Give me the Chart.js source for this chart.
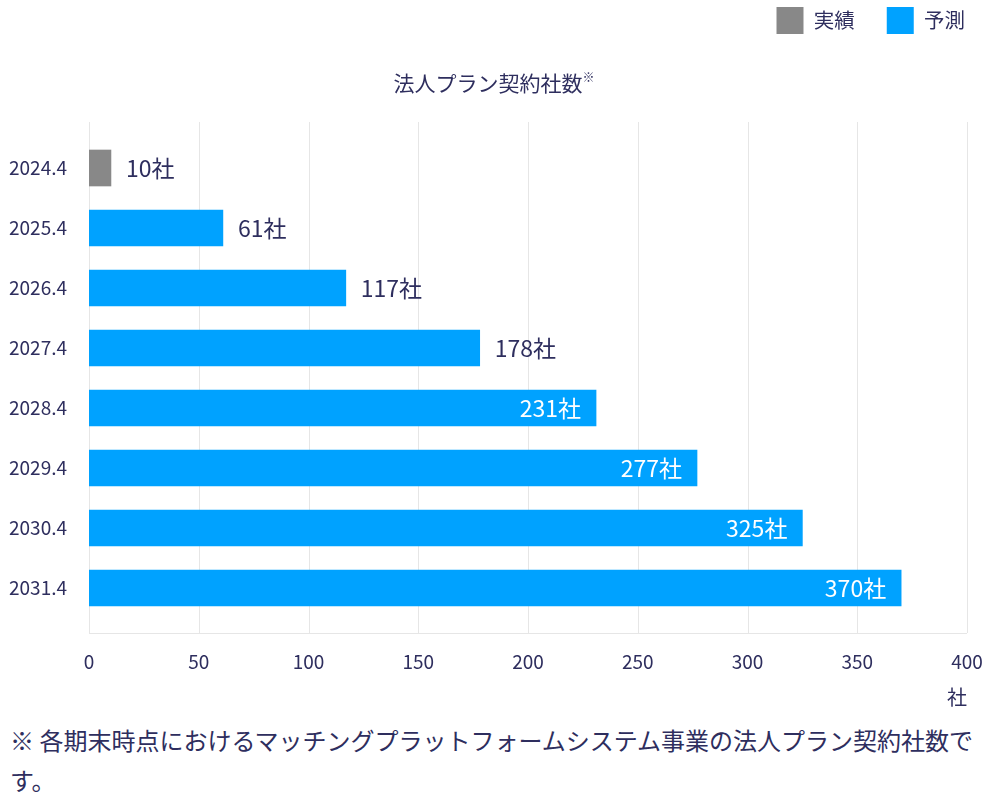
<!DOCTYPE html>
<html><head><meta charset="utf-8">
<script src="https://cdn.jsdelivr.net/npm/chart.js@4"></script>
<style>
html,body{margin:0;padding:0;background:#fff;}
body{width:988px;height:801px;position:relative;overflow:hidden;font-family:"Noto Sans CJK JP","Noto Sans",sans-serif;color:#2e2e5e;}
#wrap{position:absolute;left:0;top:0;width:988px;height:718px;}
#title{position:absolute;left:0;width:988px;top:70px;text-align:center;font-size:21px;line-height:24px;}
#title sup{font-size:12px;vertical-align:top;position:relative;top:-5px;}
#note{position:absolute;left:10px;top:720px;width:970px;font-size:24px;line-height:40px;}
</style></head>
<body>
<div id="wrap"><canvas id="c" width="988" height="718"></canvas></div>
<div id="title">法人プラン契約社数<sup>※</sup></div>
<div id="note">※ 各期末時点におけるマッチングプラットフォームシステム事業の法人プラン契約社数です。</div>
<script>
const categories = ['2024.4','2025.4','2026.4','2027.4','2028.4','2029.4','2030.4','2031.4'];
const actualValues = [10, null, null, null, null, null, null, null];
const forecastValues = [null, 61, 117, 178, 231, 277, 325, 370];
const seriesNames = ['実績', '予測'];
const unitLabel = '社';
const xMax = 400;
const xStep = 50;

const NAVY = '#2e2e5e';
const FONT = '"Noto Sans CJK JP", "Noto Sans", sans-serif';

const gridPlugin = {
  id: 'gridExt',
  beforeDatasetsDraw(chart) {
    const ctx = chart.ctx, xs = chart.scales.x, a = chart.chartArea;
    ctx.save();
    ctx.strokeStyle = '#e6e6e6';
    ctx.lineWidth = 1;
    xs.ticks.forEach(t => {
      const x = Math.round(xs.getPixelForValue(t.value)) + 0.5;
      ctx.beginPath(); ctx.moveTo(x, a.top - 16); ctx.lineTo(x, a.bottom + 15); ctx.stroke();
    });
    const y = Math.round(a.bottom + 15) + 0.5;
    ctx.beginPath(); ctx.moveTo(a.left, y); ctx.lineTo(a.right, y); ctx.stroke();
    ctx.restore();
  }
};

const labelPlugin = {
  id: 'valLabels',
  afterDatasetsDraw(chart) {
    const ctx = chart.ctx;
    ctx.save();
    ctx.font = '23px ' + FONT;
    ctx.textBaseline = 'middle';
    chart.data.datasets.forEach((ds, di) => {
      const meta = chart.getDatasetMeta(di);
      meta.data.forEach((bar, i) => {
        const v = ds.data[i];
        if (v == null) return;
        const txt = v + unitLabel;
        if (v >= 200) {
          ctx.fillStyle = '#ffffff'; ctx.textAlign = 'right';
          ctx.fillText(txt, bar.x - 15, bar.y);
        } else {
          ctx.fillStyle = NAVY; ctx.textAlign = 'left';
          ctx.fillText(txt, bar.x + 15, bar.y);
        }
      });
    });
    ctx.restore();
  }
};

const legendTweak = {
  id: 'legendTweak',
  beforeInit(chart) {
    const lg = chart.legend;
    const orig = lg.fit;
    lg.fit = function() { orig.call(this); this.height = 138; };
  },
  beforeDraw(chart) {
    chart.legend.top = -25;
    chart.legend.right = 997;
  }
};

new Chart(document.getElementById('c'), {
  type: 'bar',
  data: {
    labels: categories,
    datasets: [
      { label: seriesNames[0], data: actualValues, backgroundColor: '#888888', borderWidth: 0, barThickness: 36 },
      { label: seriesNames[1], data: forecastValues, backgroundColor: '#00a2ff', borderWidth: 0, barThickness: 36 }
    ]
  },
  options: {
    indexAxis: 'y',
    responsive: false,
    animation: false,
    layout: { padding: { left: 0, right: 21, top: 0, bottom: 0 } },
    plugins: {
      legend: {
        position: 'top',
        align: 'end',
        labels: { boxWidth: 27, boxHeight: 27, padding: 32, color: NAVY, font: { size: 20.5, family: FONT } }
      },
      title: { display: false },
      tooltip: { enabled: false }
    },
    scales: {
      x: {
        stacked: true,
        min: 0, max: xMax,
        grid: { display: false, drawTicks: true, tickLength: 30 },
        border: { display: false },
        ticks: { stepSize: xStep, color: NAVY, font: { size: 19, family: FONT }, padding: 2, maxRotation: 0 },
        title: { display: true, text: unitLabel, align: 'end', color: NAVY, font: { size: 20, family: FONT }, padding: { top: 10, bottom: 9 } },
        afterFit(scale) { scale.height = 100; }
      },
      y: {
        stacked: true,
        grid: { display: false, drawTicks: false },
        border: { display: false },
        ticks: { color: NAVY, font: { size: 19, family: FONT }, padding: 22 },
        afterFit(scale) { scale.width = 89; }
      }
    }
  },
  plugins: [gridPlugin, labelPlugin, legendTweak]
});
</script>
</body></html>
